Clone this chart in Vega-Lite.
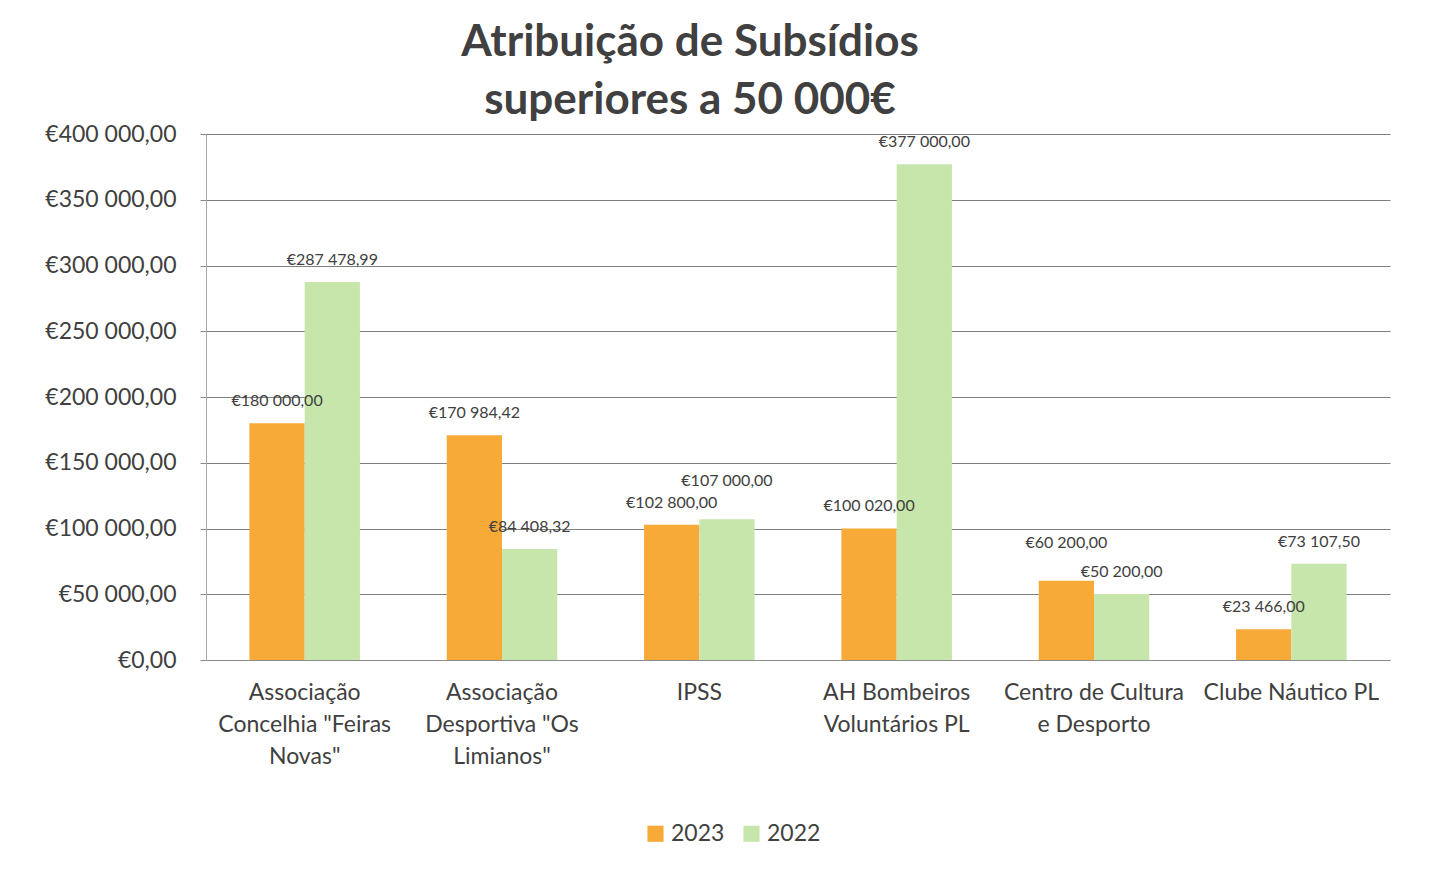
{
  "$schema": "https://vega.github.io/schema/vega-lite/v6.json",
  "width": 1184,
  "height": 526,
  "autosize": "none",
  "padding": {"left": 206, "top": 134, "right": 45, "bottom": 211},
  "background": "white",
  "config": {
    "locale": {"number": {"decimal": ",", "thousands": " ", "grouping": [3], "currency": ["€", ""]}},
    "view": {"stroke": null},
    "font": "Lato"
  },
  "title": {
    "text": ["Atribuição de Subsídios", "superiores a 50 000€"],
    "font": "Lato",
    "fontSize": 44,
    "fontWeight": "bold",
    "color": "#404040",
    "anchor": "middle",
    "dx": -108,
    "lineHeight": 58,
    "offset": 0
  },
  "data": {
    "values": [
      {"org": "Associação|Concelhia \"Feiras|Novas\"", "year": "2023", "value": 180000.00},
      {"org": "Associação|Concelhia \"Feiras|Novas\"", "year": "2022", "value": 287478.99},
      {"org": "Associação|Desportiva \"Os|Limianos\"", "year": "2023", "value": 170984.42},
      {"org": "Associação|Desportiva \"Os|Limianos\"", "year": "2022", "value": 84408.32},
      {"org": "IPSS", "year": "2023", "value": 102800.00},
      {"org": "IPSS", "year": "2022", "value": 107000.00},
      {"org": "AH Bombeiros|Voluntários PL", "year": "2023", "value": 100020.00},
      {"org": "AH Bombeiros|Voluntários PL", "year": "2022", "value": 377000.00},
      {"org": "Centro de Cultura|e Desporto", "year": "2023", "value": 60200.00},
      {"org": "Centro de Cultura|e Desporto", "year": "2022", "value": 50200.00},
      {"org": "Clube Náutico PL", "year": "2023", "value": 23466.00},
      {"org": "Clube Náutico PL", "year": "2022", "value": 73107.50}
    ]
  },
  "transform": [
    {"joinaggregate": [{"op": "max", "field": "value", "as": "top"}, {"op": "min", "field": "value", "as": "bot"}], "groupby": ["org"]}
  ],
  "encoding": {
    "x": {
      "field": "org",
      "type": "nominal",
      "sort": null,
      "scale": {"paddingInner": 0.44, "paddingOuter": 0.22},
      "axis": {
        "title": null,
        "labelAngle": 0,
        "labelExpr": "split(datum.label, '|')",
        "labelFontSize": 23,
        "labelLineHeight": 32,
        "labelColor": "#404040",
        "labelPadding": 21,
        "labelLimit": 400,
        "labelOverlap": false,
        "ticks": false,
        "domainColor": "#8c8c8c",
        "labelBaseline": "top"
      }
    },
    "xOffset": {"field": "year", "type": "nominal", "sort": ["2023", "2022"]},
    "y": {
      "field": "value",
      "type": "quantitative",
      "scale": {"domain": [0, 400000]},
      "axis": {
        "title": null,
        "values": [0, 50000, 100000, 150000, 200000, 250000, 300000, 350000, 400000],
        "format": "$,.2f",
        "labelFontSize": 23,
        "labelColor": "#404040",
        "labelPadding": 24,
        "tickSize": 6,
        "tickColor": "#8c8c8c",
        "gridColor": "#7f7f7f",
        "gridWidth": 1,
        "domainColor": "#a6a6a6"
      }
    }
  },
  "layer": [
    {
      "mark": {"type": "bar"},
      "encoding": {
        "color": {
          "field": "year",
          "type": "nominal",
          "scale": {"domain": ["2023", "2022"], "range": ["#F8AA38", "#C6E6AB"]},
          "legend": {
            "title": null,
            "orient": "none",
            "legendX": 438,
            "legendY": 688,
            "direction": "horizontal",
            "symbolType": "square",
            "symbolSize": 260,
            "symbolStrokeWidth": 0,
            "labelFontSize": 23,
            "labelColor": "#404040",
            "columnPadding": 15,
            "labelOffset": 4
          }
        }
      }
    },
    {
      "transform": [{"filter": "!(datum.value == datum.top && datum.top - datum.bot < 12000)"}],
      "mark": {"type": "text", "dy": -22, "fontSize": 16, "color": "#404040"},
      "encoding": {
        "text": {"field": "value", "type": "quantitative", "format": "$,.2f"}
      }
    },
    {
      "transform": [{"filter": "datum.value == datum.top && datum.top - datum.bot < 12000"}],
      "mark": {"type": "text", "dy": -38, "fontSize": 16, "color": "#404040"},
      "encoding": {
        "text": {"field": "value", "type": "quantitative", "format": "$,.2f"}
      }
    }
  ]
}
